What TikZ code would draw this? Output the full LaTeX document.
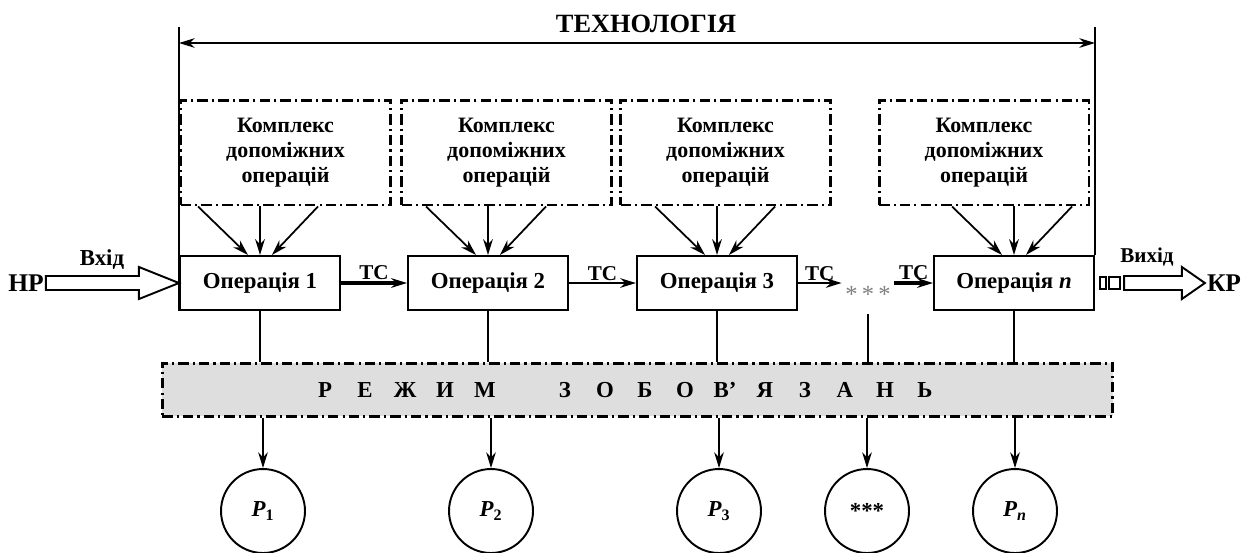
\documentclass[tikz,border=0pt]{standalone}
\usepackage{fontspec}
\setmainfont{Liberation Serif}
\usetikzlibrary{arrows.meta}
\usetikzlibrary{calc}

\newcommand{\spreadletter}[1]{\makebox[0.8cm]{#1}}

\begin{document}
\begin{tikzpicture}[x=0.02cm, y=-0.02cm,
    >={Stealth[length=9pt,width=5.5pt]},
    frame line/.style={line width=1.2pt},
    op box/.style={draw, line width=1.2pt, minimum width=3.2cm,
      minimum height=1.08cm, font=\fontsize{13}{15}\selectfont\bfseries},
    dash dot/.style={line width=1.7pt,
      dash pattern=on 6pt off 2.3pt on 1.2pt off 2.3pt},
    aux box/.style={draw, dash dot, minimum width=4.2cm, minimum height=2.1cm,
      align=center, font=\fontsize{12.5}{14.2}\selectfont\bfseries},
    mode band/.style={draw, dash dot, fill=black!13, minimum width=19.02cm,
      minimum height=1.06cm},
    result/.style={draw, circle, line width=1.1pt, minimum size=1.68cm,
      inner sep=0pt, font=\fontsize{13}{15}\selectfont\bfseries\itshape},
    feed/.style={->, line width=1pt},
    link line/.style={line width=0.8pt},
    flow/.style={->, line width=1pt},
    hollow arrow/.style={line width=1.1pt, fill=white},
    small label/.style={font=\fontsize{12}{14}\selectfont\bfseries},
    tc label/.style={small label, above, inner sep=1pt}]
    \useasboundingbox (0,0) rectangle (1246,552);
    \coordinate (top) at (0,27);
    \coordinate (tech) at (0,43);

    \node[font=\fontsize{15}{17}\selectfont\bfseries] (techlabel) at (646,24) {ТЕХНОЛОГІЯ};

    % operations and the auxiliary complexes above them
    \node[op box] (op1) at (260,283) {Операція 1};
    \node[op box] (op2) at (488,283) {Операція 2};
    \node[op box] (op3) at (717,283) {Операція 3};
    \node[op box] (opn) at (1014,283) {Операція \textit{n}};
    \node[inner xsep=2pt, minimum height=0.8cm, text=gray,
      font=\fontsize{14}{16}\selectfont] (dots) at (868,294) {*\,*\,*};

    \node[aux box] (c1) at (285.5,152.5) {Комплекс\\допоміжних\\операцій};
    \node[aux box] (c2) at (506.5,152.5) {Комплекс\\допоміжних\\операцій};
    \node[aux box] (c3) at (725.5,152.5) {Комплекс\\допоміжних\\операцій};
    \node[aux box] (cn) at (984,152.5) {Комплекс\\допоміжних\\операцій};

    % regime band and the results
    \node[mode band] (band) at (637.5,389.5) {};
    \node[font=\fontsize{13}{15}\selectfont\bfseries] (mode) at (625,390)
      {\spreadletter{Р}\spreadletter{Е}\spreadletter{Ж}\spreadletter{И}\spreadletter{М}\spreadletter{}\spreadletter{З}\spreadletter{О}\spreadletter{Б}\spreadletter{О}\spreadletter{В’}\spreadletter{Я}\spreadletter{З}\spreadletter{А}\spreadletter{Н}\spreadletter{Ь}};

    \node[result] (r1) at (263,511) {P\textsubscript{\upshape 1}};
    \node[result] (r2) at (491,511) {P\textsubscript{\upshape 2}};
    \node[result] (r3) at (719,511) {P\textsubscript{\upshape 3}};
    \node[result, font=\fontsize{13}{15}\selectfont\bfseries] (rd) at (867,511) {\raisebox{-3pt}{***}};
    \node[result] (rn) at (1015,511) {P\textsubscript{n}};

    % input and output
    \node[inner sep=1pt, font=\fontsize{14.5}{16}\selectfont\bfseries] (hp) at (26,283) {НР};
    \node[inner sep=1pt, font=\fontsize{14.5}{16}\selectfont\bfseries] (kr) at (1224,283) {КР};
    \node[font=\fontsize{13}{15}\selectfont\bfseries] (in) at (102,260) {Вхід};
    \node[small label] (out) at (1147,257) {Вихід};

    % technology frame
    \draw[frame line] (op1.south west) -- (op1.south west |- top);
    \draw[frame line] (opn.north east) -- (opn.north east |- top);
    \draw[<->, line width=1pt] (op1.west |- tech) -- (opn.east |- tech);

    \draw[hollow arrow] ($(hp.east)+(0,-7)$) -- ($(op1.west)+(-40,-7)$) -- ++(0,-9)
      -- (op1.west) -- ($(op1.west)+(-40,16)$) -- ++(0,-9) -- ($(hp.east)+(0,7)$) -- cycle;
    \draw[line width=0.8pt] ($(opn.east)+(5,-6)$) rectangle ++(6,12)
      ($(opn.east)+(14,-6)$) rectangle ++(11,12);
    \draw[hollow arrow] ($(opn.east)+(29,-7)$) -- ($(kr.west)+(-23,-7)$) -- ++(0,-9)
      -- (kr.west) -- ($(kr.west)+(-23,16)$) -- ++(0,-9) -- ($(opn.east)+(29,7)$) -- cycle;

    \foreach \i in {1,2,3,n} {
      \draw[feed] ($(c\i.south -| op\i.north)+(-62,0)$) -- ($(op\i.north)+(-12,0)$);
      \draw[feed] (c\i.south -| op\i.north) -- (op\i.north);
      \draw[feed] ($(c\i.south -| op\i.north)+(58,0)$) -- ($(op\i.north)+(12,0)$);
      \draw[link line] (op\i.south) -- (op\i.south |- band.north);
    }
    \draw[link line] (dots.south) -- (dots.south |- band.north);

    % technological states between operations
    \draw[flow, line width=1.8pt] (op1) -- node[tc label] {ТС} (op2);
    \draw[flow] (op2) -- node[tc label] {ТС} (op3);
    \draw[flow] (op3.east) -- node[tc label] {ТС} (op3.east -| dots.west);
    \draw[flow, line width=1.8pt] (opn.west -| dots.east) -- node[tc label] {ТС} (opn.west);

    \foreach \r in {r1,r2,r3,rd,rn}
      \draw[flow, line width=0.8pt] (band.south -| \r.north) -- (\r.north);
\end{tikzpicture}
\end{document}
